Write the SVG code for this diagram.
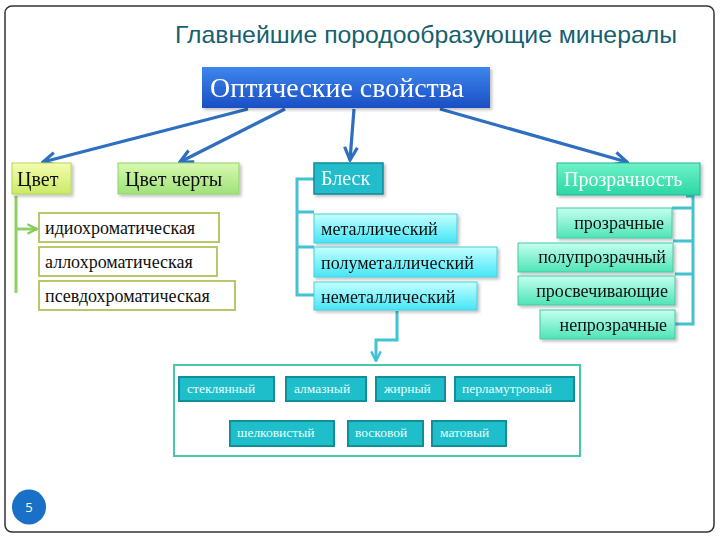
<svg xmlns="http://www.w3.org/2000/svg" width="720" height="540" viewBox="0 0 720 540">
<defs>
<linearGradient id="gBlue" x1="0" y1="0" x2="0" y2="1"><stop offset="0" stop-color="#3d86ec"/><stop offset="1" stop-color="#1a4fc4"/></linearGradient>
<linearGradient id="gYel" x1="0" y1="0" x2="0" y2="1"><stop offset="0" stop-color="#f4fdb0"/><stop offset="1" stop-color="#cbe968"/></linearGradient>
<linearGradient id="gLime" x1="0" y1="0" x2="0" y2="1"><stop offset="0" stop-color="#d8f9b0"/><stop offset="1" stop-color="#9fe27a"/></linearGradient>
<linearGradient id="gCyan" x1="0" y1="0" x2="0" y2="1"><stop offset="0" stop-color="#c4ffff"/><stop offset="1" stop-color="#45e6f6"/></linearGradient>
<linearGradient id="gMint" x1="0" y1="0" x2="0" y2="1"><stop offset="0" stop-color="#c4fff0"/><stop offset="1" stop-color="#4fe4b6"/></linearGradient>
<linearGradient id="gProz" x1="0" y1="0" x2="0" y2="1"><stop offset="0" stop-color="#6ef2c6"/><stop offset="1" stop-color="#2cd6a6"/></linearGradient>
<filter id="sh" x="-10%" y="-20%" width="125%" height="150%"><feDropShadow dx="2" dy="2" stdDeviation="1.5" flood-color="#000" flood-opacity="0.25"/></filter>
<marker id="aBlue" viewBox="0 0 10 10" refX="9" refY="5" markerWidth="5" markerHeight="5" orient="auto" markerUnits="strokeWidth"><path d="M1,1 L9,5 L1,9" fill="none" stroke="#2e6fc0" stroke-width="2"/></marker>
<marker id="aGreen" viewBox="0 0 10 10" refX="9" refY="5" markerWidth="4" markerHeight="4" orient="auto" markerUnits="strokeWidth"><path d="M1,1 L9,5 L1,9" fill="none" stroke="#86cc5c" stroke-width="2"/></marker>
<marker id="aTeal" viewBox="0 0 10 10" refX="9" refY="5" markerWidth="4" markerHeight="4" orient="auto" markerUnits="strokeWidth"><path d="M1,1 L9,5 L1,9" fill="none" stroke="#3ec4d4" stroke-width="2"/></marker>
<style>
.serif{font-family:"Liberation Serif","Times New Roman",serif}
.t17{font-size:18px;fill:#111}
.hdr{font-size:20px}
.small{font-size:13.5px;fill:#e6ffff}
.blueLine{stroke:#2e6fc0;stroke-width:3.2;fill:none}
.bracket{stroke:#44c2d2;stroke-width:3;fill:none}
.chip{fill:#1fbecb;stroke:#128e9a;stroke-width:2}
.wbox{fill:#fff;stroke:#b6c86a;stroke-width:2}
.cbox{fill:url(#gCyan);stroke:#4ccbd8;stroke-width:1}
.mbox{fill:url(#gMint);stroke:#48c8a4;stroke-width:1}
</style>
</defs>
<rect x="5" y="6" width="709" height="526" rx="7" fill="#fff" stroke="#333" stroke-width="1.5"/>
<text x="175" y="43" font-family="'Liberation Sans',Arial,sans-serif" font-size="24" fill="#17606e" textLength="502" lengthAdjust="spacingAndGlyphs">Главнейшие породообразующие минералы</text>

<g id="connectors">
<line class="blueLine" x1="248" y1="109" x2="43" y2="162" marker-end="url(#aBlue)"/>
<line class="blueLine" x1="285" y1="109" x2="180" y2="162" marker-end="url(#aBlue)"/>
<line class="blueLine" x1="354" y1="109" x2="350" y2="160" marker-end="url(#aBlue)"/>
<line class="blueLine" x1="440" y1="109" x2="627" y2="162" marker-end="url(#aBlue)"/>
<path d="M16,196 V293" stroke="#8ed064" stroke-width="3" fill="none"/>
<line x1="16" y1="229" x2="37" y2="229" stroke="#8ed064" stroke-width="3" marker-end="url(#aGreen)"/>
<path class="bracket" d="M314,179 H297 V295 H314 M297,212 H314 M297,247 H314"/>
<path class="bracket" d="M686,196 H693 V324 H675 M672,208 H693 M673,241 H693 M675,274 H693"/>
<path d="M397,311 V340 H376 V361" stroke="#3ec4d4" stroke-width="3" fill="none" marker-end="url(#aTeal)"/>
</g>

<g id="n-optical" filter="url(#sh)">
<rect x="202" y="67" width="288" height="41" fill="url(#gBlue)"/>
<text class="serif" x="210" y="97" font-size="27" fill="#fff" textLength="254" lengthAdjust="spacingAndGlyphs">Оптические свойства</text>
</g>

<g id="n-cvet" filter="url(#sh)">
<rect x="12" y="163" width="59" height="31" fill="url(#gYel)" stroke="#b4d85a" stroke-width="1"/>
<text class="serif hdr" x="17" y="186" fill="#111">Цвет</text>
</g>
<g id="n-cvet-cherty" filter="url(#sh)">
<rect x="118" y="163" width="121" height="31" fill="url(#gLime)" stroke="#92d468" stroke-width="1"/>
<text class="serif hdr" x="125" y="186" fill="#111">Цвет черты</text>
</g>
<g id="n-blesk" filter="url(#sh)">
<rect x="314" y="163" width="69" height="31" fill="#22bccb" stroke="#10899a" stroke-width="1.5"/>
<text class="serif hdr" x="321" y="185" fill="#f4ffff">Блеск</text>
</g>
<g id="n-prozr" filter="url(#sh)">
<rect x="557" y="163" width="143" height="32" fill="url(#gProz)" stroke="#20b890" stroke-width="1"/>
<text class="serif hdr" x="564" y="186" fill="#f4fffa">Прозрачность</text>
</g>

<g id="n-idio"><rect class="wbox" x="39" y="213" width="180" height="29"/><text class="serif t17" x="45" y="234">идиохроматическая</text></g>
<g id="n-allo"><rect class="wbox" x="39" y="247" width="178" height="29"/><text class="serif t17" x="45" y="268">аллохроматическая</text></g>
<g id="n-pseudo"><rect class="wbox" x="39" y="281" width="196" height="29"/><text class="serif t17" x="45" y="302">псевдохроматическая</text></g>

<g id="n-metal" filter="url(#sh)"><rect class="cbox" x="314" y="214" width="143" height="29"/><text class="serif t17" x="321" y="235">металлический</text></g>
<g id="n-polumetal" filter="url(#sh)"><rect class="cbox" x="314" y="247" width="183" height="30"/><text class="serif t17" x="321" y="269">полуметаллический</text></g>
<g id="n-nemetal" filter="url(#sh)"><rect class="cbox" x="314" y="282" width="163" height="28"/><text class="serif t17" x="321" y="303">неметаллический</text></g>

<g id="n-prozrachnye" filter="url(#sh)"><rect class="mbox" x="557" y="208" width="115" height="30"/><text class="serif t17" x="664" y="229" text-anchor="end">прозрачные</text></g>
<g id="n-poluprozr" filter="url(#sh)"><rect class="mbox" x="518" y="243" width="155" height="29"/><text class="serif t17" x="666" y="263" text-anchor="end">полупрозрачный</text></g>
<g id="n-prosvech" filter="url(#sh)"><rect class="mbox" x="518" y="276" width="157" height="29"/><text class="serif t17" x="668" y="297" text-anchor="end">просвечивающие</text></g>
<g id="n-neprozr" filter="url(#sh)"><rect class="mbox" x="540" y="310" width="135" height="29"/><text class="serif t17" x="667" y="331" text-anchor="end">непрозрачные</text></g>

<g id="n-types">
<rect x="174" y="365" width="406" height="91" fill="#fff" stroke="#46c8aa" stroke-width="2"/>
</g>
<g id="n-steklyannyi"><rect class="chip" x="179" y="377" width="95" height="24"/><text class="serif small" x="187" y="393">стеклянный</text></g>
<g id="n-almaznyi"><rect class="chip" x="286" y="377" width="80" height="24"/><text class="serif small" x="294" y="393">алмазный</text></g>
<g id="n-zhirnyi"><rect class="chip" x="376" y="377" width="69" height="24"/><text class="serif small" x="384" y="393">жирный</text></g>
<g id="n-perlamutr"><rect class="chip" x="455" y="377" width="119" height="24"/><text class="serif small" x="462" y="393">перламутровый</text></g>
<g id="n-shelk"><rect class="chip" x="230" y="421" width="104" height="25"/><text class="serif small" x="237" y="437">шелковистый</text></g>
<g id="n-voskovoi"><rect class="chip" x="348" y="421" width="75" height="25"/><text class="serif small" x="355" y="437">восковой</text></g>
<g id="n-matovyi"><rect class="chip" x="432" y="421" width="74" height="25"/><text class="serif small" x="440" y="437">матовый</text></g>

<g id="page-num">
<ellipse cx="29" cy="507" rx="17" ry="17.5" fill="#1a6fc6"/>
<text x="29" y="512" font-family="'Open Sans','DejaVu Sans',sans-serif" font-size="13" fill="#fff" text-anchor="middle">5</text>
</g>
</svg>
